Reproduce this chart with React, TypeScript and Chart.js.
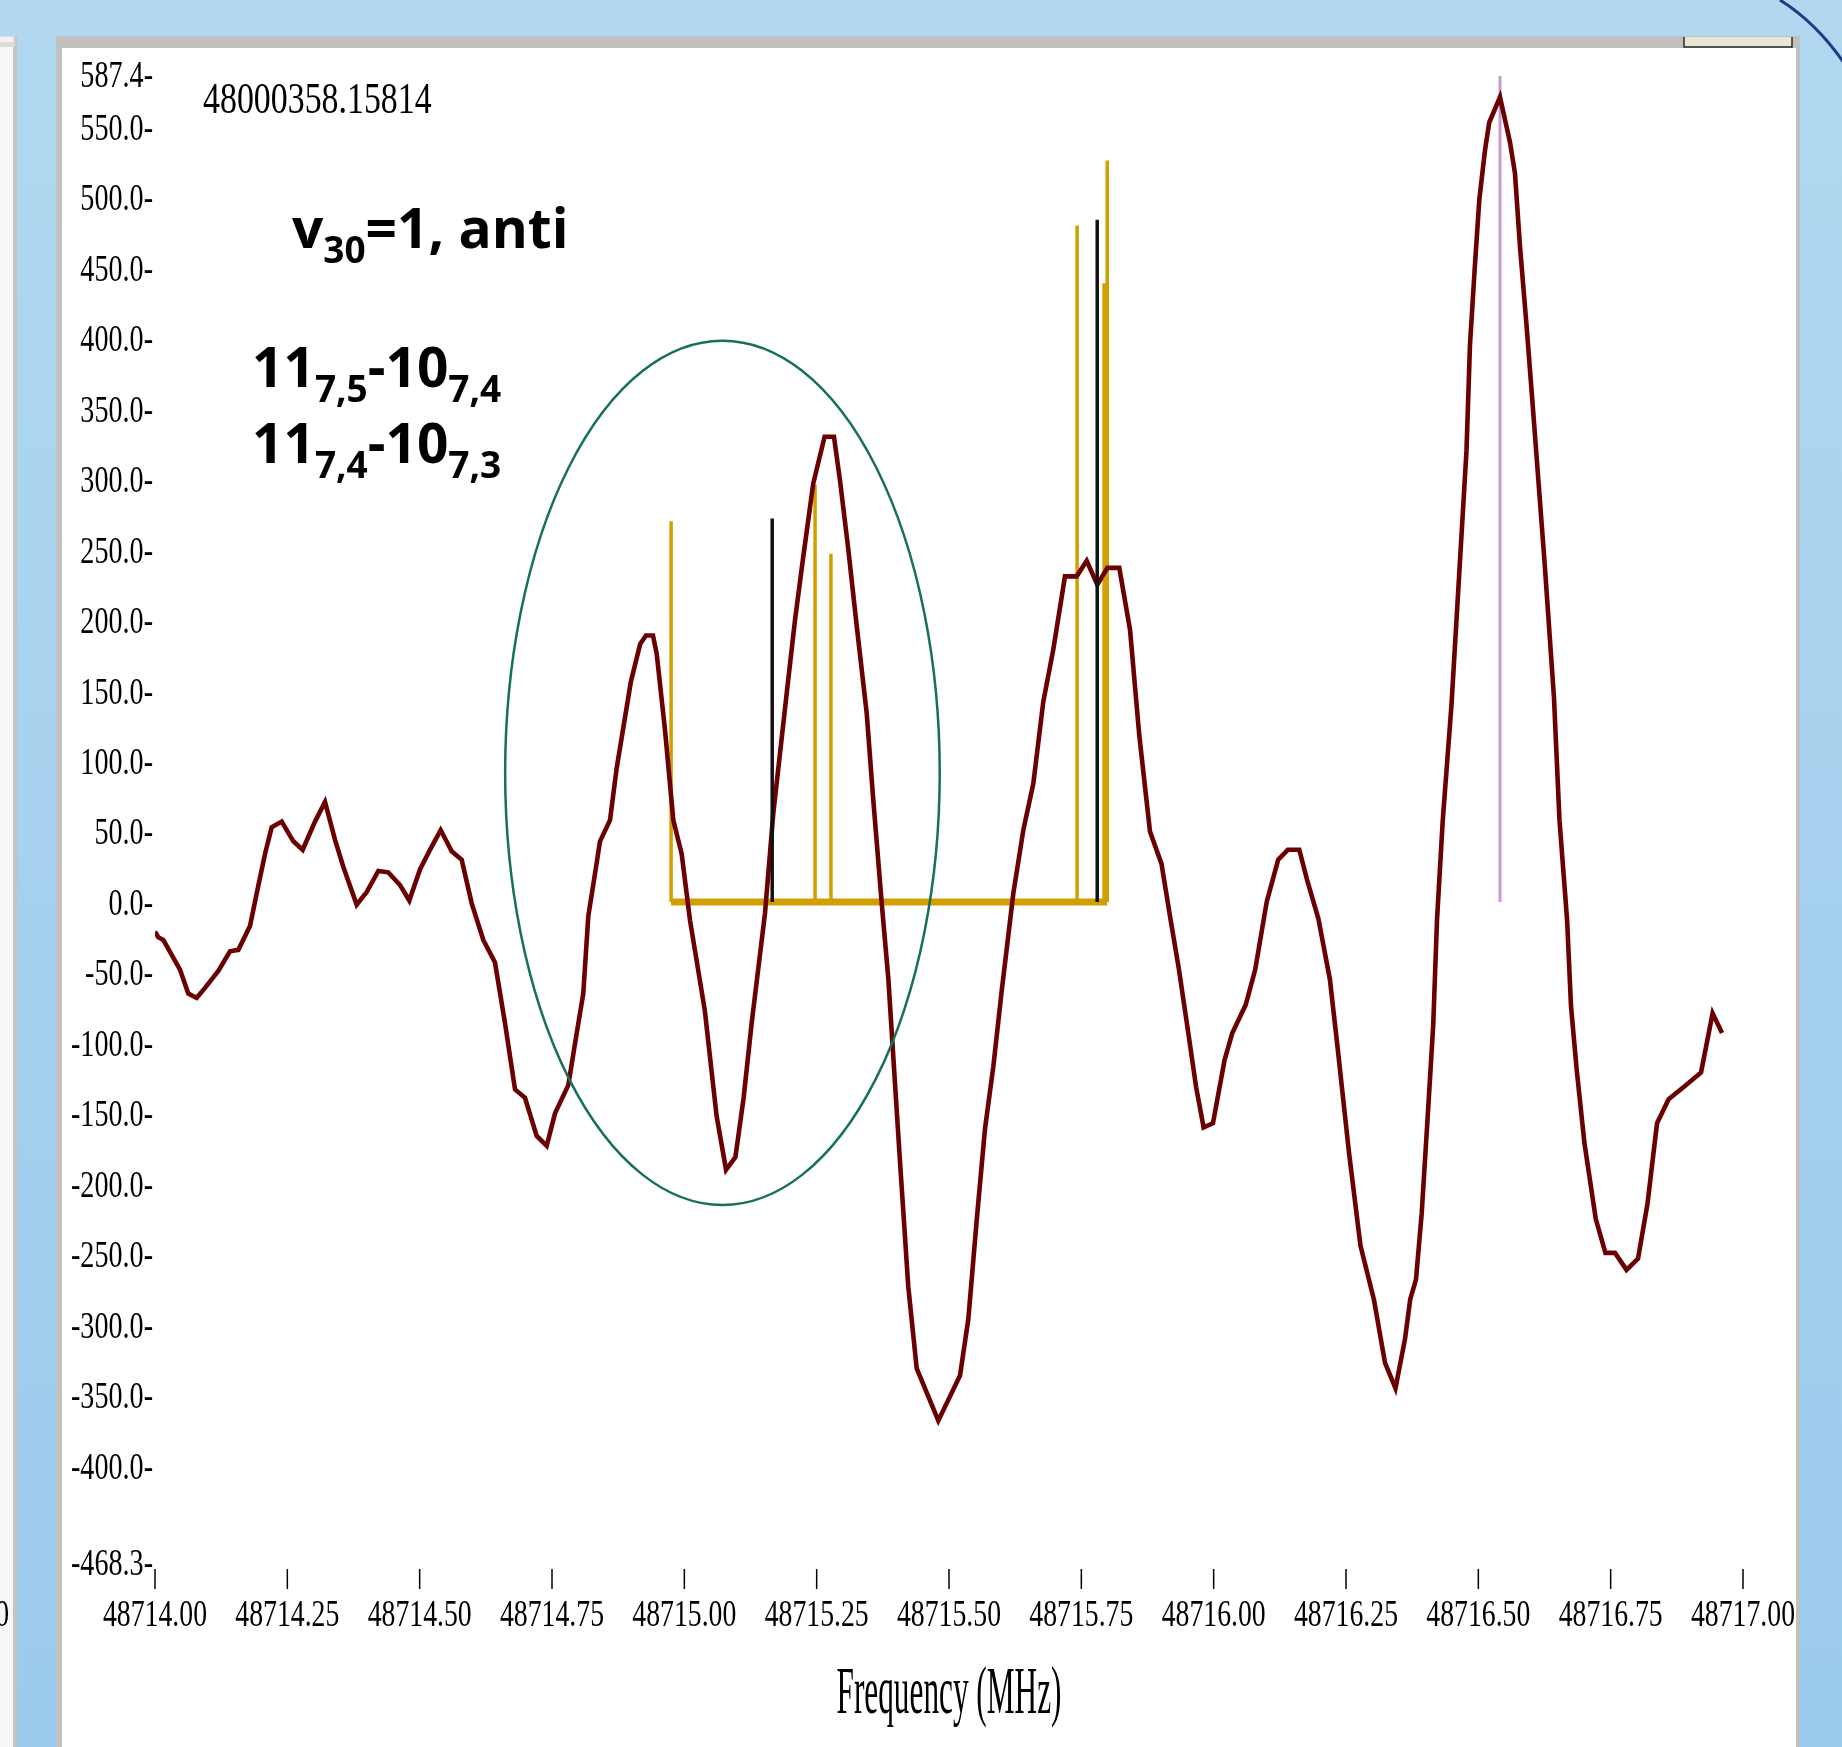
import React, { useEffect, useRef } from 'react';
import { Chart, registerables } from 'chart.js';

Chart.register(...registerables);

// ---------- data ----------
const TRACE_FREQ = [
  48714.0, 48714.006, 48714.0157, 48714.0472, 48714.0629, 48714.0788, 48714.0945, 48714.1196, 48714.1417, 48714.1574,
  48714.1795, 48714.1921, 48714.2078, 48714.2205, 48714.2394, 48714.2613, 48714.279, 48714.3023, 48714.3212, 48714.3401,
  48714.3557, 48714.381, 48714.3999, 48714.4219, 48714.4407, 48714.4629, 48714.4804, 48714.5006, 48714.5195, 48714.5397,
  48714.5605, 48714.5794, 48714.5983, 48714.6202, 48714.6423, 48714.6612, 48714.6801, 48714.699, 48714.7211, 48714.74,
  48714.7557, 48714.7808, 48714.7967, 48714.8091, 48714.8186, 48714.8312, 48714.8407, 48714.8596, 48714.8722, 48714.8989,
  48714.9166, 48714.9276, 48714.9408, 48714.9478, 48714.9635, 48714.9792, 48714.995, 48715.0107, 48715.0387, 48715.061,
  48715.0788, 48715.0965, 48715.112, 48715.1275, 48715.1524, 48715.1681, 48715.1934, 48715.2091, 48715.2247, 48715.2436,
  48715.265, 48715.2827, 48715.2941, 48715.3098, 48715.3256, 48715.3445, 48715.3564, 48715.3729, 48715.3853, 48715.3948,
  48715.4074, 48715.4231, 48715.439, 48715.4798, 48715.5208, 48715.5365, 48715.5523, 48715.568, 48715.5837, 48715.5996,
  48715.6215, 48715.6404, 48715.6593, 48715.6781, 48715.697, 48715.7191, 48715.7412, 48715.7601, 48715.7802, 48715.7991,
  48715.8217, 48715.842, 48715.8595, 48715.8797, 48715.9015, 48715.9175, 48715.934, 48715.9521, 48715.9667, 48715.981,
  48715.9987, 48716.0207, 48716.0352, 48716.0605, 48716.0785, 48716.1002, 48716.1219, 48716.1401, 48716.1618, 48716.1762,
  48716.1979, 48716.2196, 48716.234, 48716.2557, 48716.2774, 48716.3027, 48716.3237, 48716.3435, 48716.3615, 48716.3713,
  48716.3822, 48716.393, 48716.4039, 48716.4147, 48716.4219, 48716.4328, 48716.4493, 48716.4776, 48716.4842, 48716.4936,
  48716.5018, 48716.5125, 48716.5206, 48716.5409, 48716.5598, 48716.5692, 48716.5787, 48716.5913, 48716.6038, 48716.6253,
  48716.6429, 48716.6533, 48716.6677, 48716.6751, 48716.6858, 48716.7004, 48716.7219, 48716.7401, 48716.7582, 48716.7799,
  48716.8017, 48716.8196, 48716.8376, 48716.8595, 48716.892, 48716.9207, 48716.9426, 48716.9604,
];
const TRACE_INT = [
  -21, -25, -27, -48, -65, -68, -61, -49, -35, -34,
  -17, 6, 34, 53, 57, 43, 37, 57, 71, 44,
  25, -2, 7, 22, 21, 12, 1, 23, 37, 51,
  36, 30, -1, -27, -43, -86, -133, -139, -166, -173,
  -150, -130, -93, -65, -10, 20, 43, 58, 95, 156,
  183, 189, 189, 176, 122, 58, 34, -13, -77, -152,
  -190, -181, -139, -85, -8, 63, 148, 200, 245, 297,
  330, 330, 299, 250, 196, 134, 75, -1, -54, -110,
  -184, -273, -331, -368, -336, -296, -226, -161, -117, -63,
  6, 51, 84, 142, 179, 231, 231, 242, 225, 237,
  237, 193, 118, 50, 27, -10, -47, -93, -131, -160,
  -157, -112, -93, -73, -48, 0, 30, 37, 37, 16,
  -12, -55, -103, -178, -244, -282, -327, -345, -310, -282,
  -268, -221, -155, -88, -13, 58, 140, 320, 395, 452,
  498, 533, 553, 571, 539, 517, 465, 408, 347, 240,
  145, 58, -13, -74, -119, -171, -225, -249, -249, -261,
  -253, -214, -157, -140, -130, -121, -79, -93,
];

const ORANGE_FREQ = [48714.975, 48715.247, 48715.277, 48715.742, 48715.793, 48715.799];
const ORANGE_INT = [270, 296, 247, 480, 439, 526];
const BLACK_FREQ = [48715.166, 48715.78];
const BLACK_INT = [272, 484];
const PURPLE_FREQ = [48716.541];
const PURPLE_INT = [586];

const X_MIN = 48714.0;
const X_MAX = 48717.0;
const X_TICKS = [48714.0, 48714.25, 48714.5, 48714.75, 48715.0, 48715.25, 48715.5, 48715.75, 48716.0, 48716.25, 48716.5, 48716.75, 48717.0];
const Y_MIN = -468.3;
const Y_MAX = 587.4;
const Y_TICKS = [-468.3, -400, -350, -300, -250, -200, -150, -100, -50, 0, 50, 100, 150, 200, 250, 300, 350, 400, 450, 500, 550, 587.4];

const X_TITLE = 'Frequency (MHz)';
const HEADER_TEXT = '48000358.15814';
const LABEL_STATE = [{ t: 'v' }, { t: '30', sub: true }, { t: '=1, anti' }];
const LABEL_LINE1 = [{ t: '11' }, { t: '7,5', sub: true }, { t: '-10' }, { t: '7,4', sub: true }];
const LABEL_LINE2 = [{ t: '11' }, { t: '7,4', sub: true }, { t: '-10' }, { t: '7,3', sub: true }];
// highlight ellipse, in data units
const ELLIPSE_CENTER_FREQ = 48715.072;
const ELLIPSE_CENTER_INT = 91.6;
const ELLIPSE_R_FREQ = 0.4105;
const ELLIPSE_R_INT = 306.6;

// ---------- helpers ----------
const W = 1842;
const H = 1747;
const SERIF = '"Liberation Serif", "Times New Roman", serif';
const SANS = '"Open Sans", "Noto Sans", sans-serif';

function sticks(freqs: number[], ints: number[]) {
  const pts: any[] = [];
  freqs.forEach((f, i) => {
    pts.push({ x: f, y: 0 }, { x: f, y: ints[i] }, { x: f, y: 0 }, { x: f, y: null });
  });
  return pts;
}

function condensedText(ctx: CanvasRenderingContext2D, text: string, x: number, y: number, size: number, sx: number, align: CanvasTextAlign) {
  ctx.save();
  ctx.translate(x, y);
  ctx.scale(sx, 1);
  ctx.font = `${size}px ${SERIF}`;
  ctx.textAlign = align;
  ctx.textBaseline = 'alphabetic';
  ctx.fillStyle = '#000';
  ctx.fillText(text, 0, 0);
  ctx.restore();
}

function richText(ctx: CanvasRenderingContext2D, parts: { t: string; sub?: boolean }[], x: number, y: number) {
  let cx = x;
  ctx.save();
  ctx.fillStyle = '#000';
  ctx.textAlign = 'left';
  ctx.textBaseline = 'alphabetic';
  for (const p of parts) {
    ctx.font = `bold ${p.sub ? 37 : 55}px ${SANS}`;
    ctx.fillText(p.t, cx, y + (p.sub ? 15 : 0));
    cx += ctx.measureText(p.t).width;
  }
  ctx.restore();
}

const framePlugin = {
  id: 'frame',
  beforeDraw(chart: any) {
    const ctx: CanvasRenderingContext2D = chart.ctx;
    ctx.save();
    const g = ctx.createLinearGradient(0, 0, 0, H);
    g.addColorStop(0, '#B1D8F0');
    g.addColorStop(1, '#9CCAEC');
    ctx.fillStyle = g;
    ctx.fillRect(0, 0, W, H);
    // neighbouring window on the left
    ctx.fillStyle = '#F6F6F6';
    ctx.fillRect(0, 47, 13, H - 47);
    ctx.fillStyle = '#C3C3C3';
    ctx.fillRect(13, 36, 4, H - 36);
    ctx.fillStyle = '#DCDCDC';
    ctx.fillRect(0, 36, 15, 11);
    ctx.fillStyle = '#F2F2F2';
    ctx.fillRect(0, 37, 13, 5);
    // main window frame
    ctx.fillStyle = '#C0C0C0';
    ctx.fillRect(56, 36, 1744, 12);
    ctx.fillRect(56, 36, 6, H - 36);
    ctx.fillRect(1796, 36, 4, H - 36);
    ctx.fillStyle = '#FFFFFF';
    ctx.fillRect(62, 48, 1734, H - 48);
    // scroll button at top right
    ctx.fillStyle = '#E8E5D4';
    ctx.fillRect(1684, 37, 108, 10);
    ctx.strokeStyle = '#2A2A2A';
    ctx.lineWidth = 1.5;
    ctx.beginPath();
    ctx.moveTo(1684, 37);
    ctx.lineTo(1684, 47);
    ctx.lineTo(1792, 47);
    ctx.lineTo(1792, 37);
    ctx.stroke();
    // dark arc at top right
    ctx.strokeStyle = '#1E3C8A';
    ctx.lineWidth = 3;
    ctx.beginPath();
    ctx.moveTo(1780, 0);
    ctx.quadraticCurveTo(1818, 24, 1846, 66);
    ctx.stroke();
    ctx.restore();
  },
};

const overlayPlugin = {
  id: 'overlay',
  afterDatasetsDraw(chart: any) {
    const ctx: CanvasRenderingContext2D = chart.ctx;
    const xs = chart.scales.x;
    const ys = chart.scales.y;
    const cx = xs.getPixelForValue(ELLIPSE_CENTER_FREQ);
    const cy = ys.getPixelForValue(ELLIPSE_CENTER_INT);
    const rx = Math.abs(xs.getPixelForValue(ELLIPSE_CENTER_FREQ + ELLIPSE_R_FREQ) - cx);
    const ry = Math.abs(ys.getPixelForValue(ELLIPSE_CENTER_INT + ELLIPSE_R_INT) - cy);
    ctx.save();
    ctx.strokeStyle = '#17705A';
    ctx.lineWidth = 2.5;
    ctx.beginPath();
    ctx.ellipse(cx, cy, rx, ry, 0, 0, Math.PI * 2);
    ctx.stroke();
    ctx.restore();
  },
  afterDraw(chart: any) {
    const ctx: CanvasRenderingContext2D = chart.ctx;
    const xs = chart.scales.x;
    const ys = chart.scales.y;
    const area = chart.chartArea;
    // y tick labels (value followed by a dash as tick mark)
    for (const t of ys.ticks) {
      const py = ys.getPixelForValue(t.value);
      condensedText(ctx, t.value.toFixed(1) + '-', area.left - 2, py + 13, 38, 0.74, 'right');
    }
    // x tick marks and labels
    ctx.save();
    ctx.strokeStyle = '#000';
    ctx.lineWidth = 1.5;
    for (const t of xs.ticks) {
      const px = xs.getPixelForValue(t.value);
      ctx.beginPath();
      ctx.moveTo(px, area.bottom + 7);
      ctx.lineTo(px, area.bottom + 27);
      ctx.stroke();
    }
    ctx.restore();
    for (const t of xs.ticks) {
      const px = xs.getPixelForValue(t.value);
      condensedText(ctx, t.value.toFixed(2), px, area.bottom + 64, 38, 0.73, 'center');
    }
    // axis title
    condensedText(ctx, X_TITLE, (area.left + area.right) / 2, area.bottom + 151, 68, 0.46, 'center');
    // header number
    condensedText(ctx, HEADER_TEXT, area.left + 48, area.top + 39, 44, 0.77, 'left');
    // clipped label of neighbouring window
    condensedText(ctx, '0', 9, area.bottom + 64, 38, 0.73, 'right');
    // annotations
    richText(ctx, LABEL_STATE, area.left + 137, area.top + 174);
    richText(ctx, LABEL_LINE1, area.left + 97, area.top + 313);
    richText(ctx, LABEL_LINE2, area.left + 97, area.top + 389);
  },
};

export default function App() {
  const ref = useRef<HTMLCanvasElement | null>(null);

  useEffect(() => {
    if (!ref.current) return;
    const trace = TRACE_FREQ.map((f, i) => ({ x: f, y: TRACE_INT[i] }));
    const orangeBase = [
      { x: ORANGE_FREQ[0], y: 0 },
      { x: ORANGE_FREQ[ORANGE_FREQ.length - 1], y: 0 },
    ];
    const chart = new Chart(ref.current, {
      type: 'scatter',
      data: {
        datasets: [
          {
            label: 'black sticks',
            data: sticks(BLACK_FREQ, BLACK_INT),
            showLine: true,
            borderColor: '#111111',
            borderWidth: 3.5,
            spanGaps: false,
            order: 0,
          },
          {
            label: 'spectrum',
            data: trace,
            showLine: true,
            borderColor: '#6B0000',
            borderWidth: 4.6,
            order: 1,
          },
          {
            label: 'purple stick',
            data: sticks(PURPLE_FREQ, PURPLE_INT),
            showLine: true,
            borderColor: '#C99AD0',
            borderWidth: 3,
            spanGaps: false,
            order: 2,
          },
          {
            label: 'orange sticks',
            data: sticks(ORANGE_FREQ, ORANGE_INT),
            showLine: true,
            borderColor: '#D29F00',
            borderWidth: 3.5,
            spanGaps: false,
            order: 3,
          },
          {
            label: 'orange baseline',
            data: orangeBase,
            showLine: true,
            borderColor: '#D29F00',
            borderWidth: 7,
            order: 4,
          },
        ],
      } as any,
      options: {
        animation: false,
        responsive: false,
        maintainAspectRatio: false,
        devicePixelRatio: 1,
        events: [],
        layout: { padding: { left: 155, right: W - 1743, top: 74, bottom: H - 1562 } },
        elements: {
          point: { radius: 0, hoverRadius: 0 },
          line: { tension: 0, borderCapStyle: 'butt', borderJoinStyle: 'miter' },
        },
        plugins: {
          legend: { display: false },
          tooltip: { enabled: false },
        },
        scales: {
          x: {
            type: 'linear',
            min: X_MIN,
            max: X_MAX,
            grid: { display: false, drawTicks: false },
            border: { display: false },
            ticks: { display: false },
            afterBuildTicks: (scale: any) => {
              scale.ticks = X_TICKS.map((v) => ({ value: v }));
            },
          },
          y: {
            type: 'linear',
            min: Y_MIN,
            max: Y_MAX,
            grid: { display: false, drawTicks: false },
            border: { display: false },
            ticks: { display: false },
            afterBuildTicks: (scale: any) => {
              scale.ticks = Y_TICKS.map((v) => ({ value: v }));
            },
          },
        },
      } as any,
      plugins: [framePlugin, overlayPlugin],
    });
    return () => chart.destroy();
  }, []);

  return (
    <div style={{ position: 'absolute', left: 0, top: 0, width: W, height: H, overflow: 'hidden' }}>
      <canvas ref={ref} width={W} height={H} style={{ display: 'block', width: W, height: H }} />
    </div>
  );
}
